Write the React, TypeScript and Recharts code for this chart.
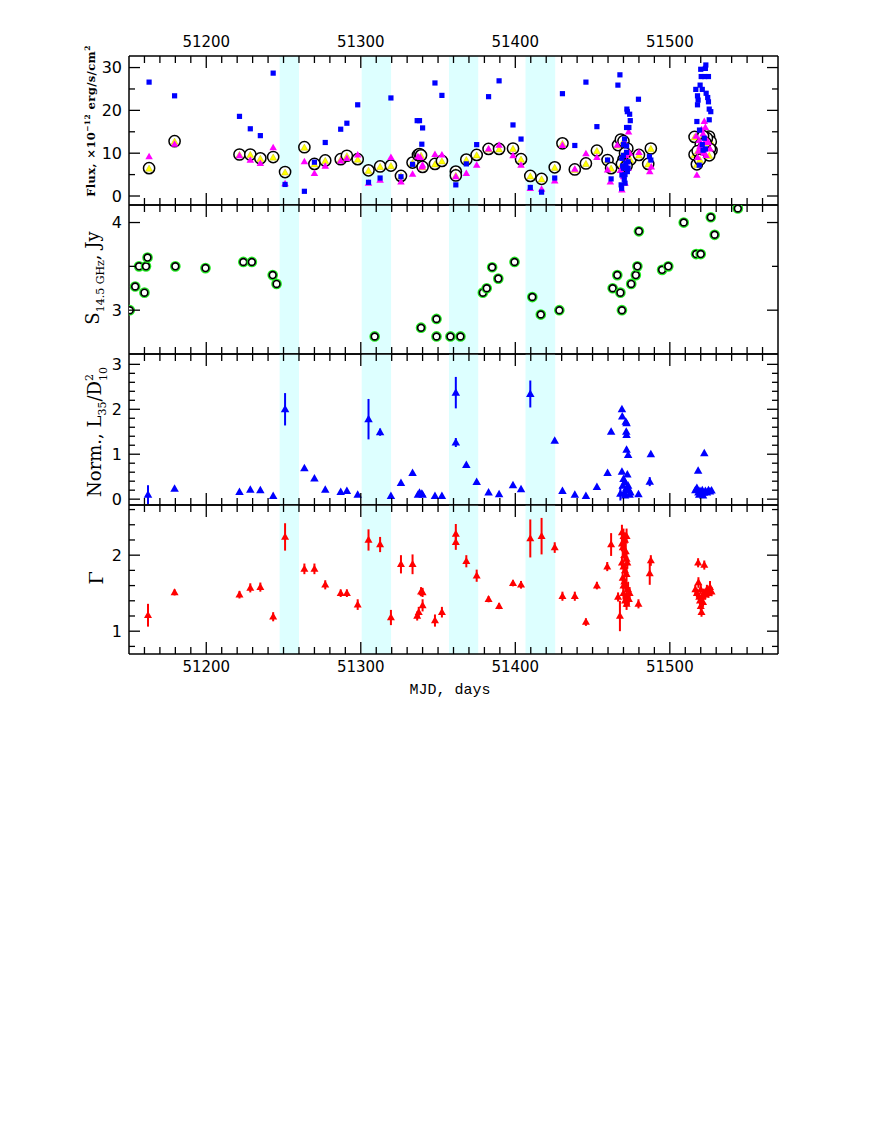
import React from "react";
import { ErrorBar, ReferenceArea, Scatter, ScatterChart, XAxis, YAxis } from "recharts";

// ---------- data: [MJD, value] ----------
// X-ray flux, blue squares
const fluxSquares: [number, number][] = [
  [51163, 26.6], [51179.5, 23.4], [51221.5, 18.6], [51228.5, 15.7], [51235, 14.1], [51243.3, 28.7],
  [51251, 2.7], [51263.5, 1.1], [51270, 7.9], [51277, 12.5], [51287, 15.6], [51291, 17.0], [51298, 21.3],
  [51305, 3.2], [51312.5, 4.2], [51319.5, 22.9], [51326, 4.5], [51333.5, 7.4], [51336.5, 17.6], [51338, 17.6],
  [51339.5, 12.1], [51340, 15.9], [51348, 26.4], [51352.5, 23.5], [51361.5, 2.6], [51368.3, 7.5], [51375, 12.0],
  [51382.7, 23.2], [51389.5, 26.9], [51398.5, 16.6], [51403.7, 13.3], [51409.7, 2.0], [51417, 0.9], [51425.5, 4.2],
  [51430.5, 23.9], [51438.5, 11.8], [51445.7, 26.6], [51452.8, 16.2], [51459.7, 8.4], [51462, 4.0], [51466.4, 25.9],
  [51467.7, 28.3], [51470.7, 13.3], [51472, 11.7], [51472.2, 20.3], [51472.5, 19.7], [51474, 19.1], [51474.4, 17.6],
  [51472, 16.0], [51473.5, 16.0], [51469, 8.8], [51471.5, 7.6], [51470, 6.5], [51472.5, 5.7], [51469, 4.9],
  [51470.5, 3.9], [51468.5, 2.6], [51471, 3.0], [51470, 9.5], [51472, 10.2], [51473, 8.0], [51471, 5.0],
  [51469.5, 7.0], [51473, 6.5], [51468.8, 1.8], [51470, 12.0], [51479.7, 22.6], [51486.8, 9.2], [51487.7, 8.4],
  [51523.3, 30.6], [51523, 29.8], [51520, 29.6], [51520.3, 27.9], [51522.5, 27.9], [51525, 27.9], [51519.6, 25.9],
  [51516.8, 24.9], [51521, 24.9], [51523.5, 24.0], [51524.5, 23.0], [51525, 22.0], [51517.9, 23.4], [51518.3, 22.4],
  [51517.9, 21.3], [51525.5, 20.3], [51526.5, 19.7], [51517.5, 17.4], [51525.5, 17.8], [51519.2, 15.4],
  [51522.3, 13.5], [51521.5, 10.7], [51519, 7.2], [51521, 12.0], [51523, 11.0],
];

// X-ray flux, magenta triangles
const fluxTriangles: [number, number][] = [
  [51163, 9.2], [51179.5, 12.1], [51221.5, 9.4], [51228.5, 8.4], [51235, 7.6], [51243.3, 11.3], [51251, 2.9],
  [51263.5, 8.0], [51270, 5.3], [51277, 7.0], [51287, 8.2], [51291, 8.8], [51298, 9.6], [51305, 3.0],
  [51312.5, 3.7], [51319.5, 9.0], [51326, 3.3], [51333.5, 5.1], [51337, 9.2], [51338.5, 9.0], [51339.5, 6.8],
  [51340, 7.2], [51348, 9.7], [51352.5, 9.6], [51361.5, 4.5], [51368.3, 5.3], [51375, 7.2], [51382.7, 11.0],
  [51389.5, 11.9], [51398.5, 9.4], [51403.7, 7.2], [51409.7, 1.8], [51417, 1.6], [51425.5, 3.5], [51430.5, 11.8],
  [51438.5, 6.3], [51445.7, 9.9], [51452.8, 9.0], [51459.7, 6.1], [51461.5, 3.3], [51466, 11.9], [51473.3, 15.0],
  [51469, 1.4], [51470, 4.5], [51471, 3.0], [51468, 6.0], [51472, 8.0], [51474, 10.0], [51470.5, 12.5],
  [51473, 6.5], [51471.5, 9.5], [51480, 10.2], [51487, 5.7], [51488, 6.8],
  [51517.5, 4.9], [51522.3, 17.4], [51523, 16.0], [51517, 14.0], [51519, 13.0], [51520, 12.0], [51521, 11.0],
  [51522, 10.0], [51523.5, 9.5], [51518, 9.0], [51519.5, 11.5], [51524, 13.0], [51525, 12.5], [51521.5, 14.5],
  [51520.5, 15.5], [51526, 11.0], [51518.5, 10.5], [51522.5, 12.5],
];

// X-ray flux, yellow circles
const fluxCircles: [number, number][] = [
  [51163, 6.5], [51179.5, 12.8], [51221.5, 9.7], [51228.5, 9.7], [51235, 8.8], [51243.3, 9.1], [51251, 5.6],
  [51263.5, 11.4], [51270, 7.5], [51277, 8.3], [51287, 8.6], [51291, 9.4], [51298, 8.6], [51305, 6.0],
  [51312.5, 6.9], [51319.5, 7.1], [51326, 4.7], [51333.5, 7.8], [51337, 9.6], [51338, 9.8], [51339, 9.5],
  [51340, 6.8], [51348, 7.5], [51352.5, 8.2], [51361.5, 5.7], [51361.5, 4.8], [51368.3, 8.5], [51375, 9.6],
  [51382.7, 11.0], [51389.5, 11.0], [51398.5, 11.1], [51403.7, 8.6], [51409.7, 4.7], [51417, 4.0], [51425.5, 6.7],
  [51430.5, 12.3], [51438.5, 6.2], [51445.7, 7.6], [51452.8, 10.6], [51459.7, 8.4], [51462, 6.5], [51466.5, 11.9],
  [51468.3, 13.2], [51470, 12.8], [51472.5, 11.1], [51470, 8.5], [51473, 9.0], [51474.5, 8.5], [51469, 7.5],
  [51472, 7.0], [51471, 10.0], [51480, 9.6], [51486, 7.5], [51487.7, 11.1],
  [51516, 13.8], [51516, 9.7], [51517.5, 7.4], [51525.4, 13.9], [51526.5, 12.7], [51527, 10.7], [51520, 12.0],
  [51522, 11.5], [51524, 13.5], [51526, 11.0], [51518, 10.5], [51519.5, 8.5], [51521.5, 14.0], [51525.5, 9.5],
  [51523, 12.5],
];

// radio flux at 14.5 GHz, Jy
const radio: [number, number][] = [
  [51150.5, 3.0], [51154, 3.27], [51156.5, 3.5], [51160, 3.2], [51161, 3.5], [51162, 3.6], [51180, 3.5],
  [51199.5, 3.48], [51224, 3.55], [51229.5, 3.55], [51243, 3.4], [51245.5, 3.3], [51309, 2.7], [51339, 2.8],
  [51349, 2.9], [51349, 2.7], [51358, 2.7], [51364.5, 2.7], [51379, 3.2], [51381.5, 3.25], [51385, 3.49],
  [51389, 3.36], [51399.5, 3.55], [51411, 3.15], [51416.5, 2.95], [51428.5, 3.0], [51463, 3.25], [51466, 3.4],
  [51468, 3.2], [51469, 3.0], [51475, 3.3], [51478, 3.4], [51479, 3.5], [51480, 3.9], [51495, 3.46],
  [51499, 3.5], [51509, 4.0], [51517, 3.64], [51520, 3.64], [51526.5, 4.06], [51529, 3.86], [51544, 4.16],
];

// normalised luminosity: [MJD, value, error]
const normLum: [number, number, number][] = [
  [51162.3, 0.10, 0.21], [51179.5, 0.23, 0], [51221.5, 0.16, 0], [51228.5, 0.21, 0], [51235, 0.2, 0],
  [51243.3, 0.07, 0], [51251, 2.0, 0.36], [51263.5, 0.69, 0], [51270, 0.46, 0], [51277, 0.21, 0],
  [51287, 0.16, 0], [51291, 0.18, 0], [51298, 0.1, 0], [51305, 1.78, 0.45], [51312.5, 1.49, 0.08],
  [51319.5, 0.07, 0], [51326, 0.36, 0], [51333.5, 0.58, 0], [51337, 0.1, 0], [51338, 0.14, 0],
  [51339.5, 0.12, 0], [51340, 0.1, 0], [51348, 0.07, 0], [51352.5, 0.07, 0], [51361.5, 2.37, 0.35],
  [51361.5, 1.26, 0.1], [51368.3, 0.76, 0], [51375, 0.38, 0], [51382.7, 0.15, 0], [51389.5, 0.11, 0],
  [51398.5, 0.31, 0], [51403.7, 0.22, 0], [51409.7, 2.34, 0.3], [51425.5, 1.3, 0.05], [51430.5, 0.18, 0],
  [51438.5, 0.1, 0], [51445.7, 0.07, 0], [51452.8, 0.27, 0], [51459.7, 0.58, 0], [51462, 1.5, 0.05],
  [51469, 2.0, 0.05], [51469.2, 1.84, 0.05], [51471.5, 1.72, 0], [51472, 1.69, 0], [51471.8, 1.5, 0.05],
  [51472, 1.43, 0.05], [51472, 1.1, 0.05], [51473, 0.98, 0.05], [51469, 0.61, 0], [51472.5, 0.55, 0],
  [51470, 0.45, 0], [51471, 0.38, 0], [51469.5, 0.3, 0], [51472, 0.25, 0], [51473.5, 0.2, 0],
  [51470.5, 0.15, 0], [51468, 0.12, 0.15], [51474, 0.1, 0], [51471, 0.08, 0], [51473, 0.3, 0],
  [51474.5, 0.15, 0], [51479.7, 0.11, 0], [51487, 0.39, 0.1], [51487.7, 1.0, 0], [51518.3, 0.63, 0],
  [51522.3, 1.02, 0], [51516.5, 0.2, 0], [51517.5, 0.25, 0], [51518.5, 0.15, 0], [51519.5, 0.18, 0],
  [51520, 0.12, 0], [51521, 0.2, 0], [51522, 0.14, 0], [51523, 0.18, 0], [51524, 0.15, 0], [51525, 0.2, 0],
  [51526, 0.17, 0], [51527, 0.19, 0], [51519, 0.1, 0], [51521.5, 0.08, 0],
];

// photon index Γ: [MJD, value, error]
const gamma: [number, number, number][] = [
  [51162.3, 1.21, 0.15], [51179.5, 1.51, 0.04], [51221.5, 1.48, 0.05], [51228.5, 1.57, 0.06], [51235, 1.58, 0.06],
  [51243.3, 1.19, 0.06], [51251, 2.24, 0.18], [51263.5, 1.82, 0.07], [51270, 1.82, 0.07], [51277, 1.61, 0.06],
  [51287, 1.5, 0.05], [51291, 1.5, 0.05], [51298, 1.35, 0.07], [51305, 2.2, 0.14], [51312.5, 2.14, 0.1],
  [51319.5, 1.18, 0.1], [51326, 1.88, 0.12], [51333.5, 1.88, 0.13], [51336.5, 1.2, 0.06], [51337.5, 1.25, 0.07],
  [51339, 1.52, 0.06], [51340, 1.51, 0.06], [51340, 1.34, 0.08], [51348, 1.14, 0.08], [51352.5, 1.25, 0.07],
  [51361.5, 2.28, 0.13], [51361.5, 2.17, 0.1], [51368.3, 1.92, 0.08], [51375, 1.73, 0.08], [51382.7, 1.42, 0.04],
  [51389.5, 1.33, 0.04], [51398.5, 1.63, 0.04], [51403.7, 1.61, 0.05], [51409.7, 2.22, 0.25], [51417, 2.25, 0.24],
  [51425.5, 2.1, 0.07], [51430.5, 1.46, 0.06], [51438.5, 1.46, 0.06], [51445.7, 1.12, 0.05], [51452.8, 1.6, 0.05],
  [51459.5, 1.85, 0.06], [51462, 2.14, 0.15], [51466.5, 1.45, 0.06], [51467.7, 1.2, 0.2],
  [51469, 2.3, 0.1], [51470, 2.25, 0.1], [51471, 2.2, 0.1], [51469.5, 2.1, 0.1], [51470.5, 2.0, 0.08],
  [51472, 1.95, 0.1], [51469, 1.9, 0.08], [51470, 1.85, 0.08], [51471, 1.8, 0.08], [51472, 1.75, 0.1],
  [51469.5, 1.7, 0.08], [51470.5, 1.65, 0.08], [51471.5, 1.6, 0.08], [51473, 1.55, 0.1], [51470, 1.5, 0.08],
  [51472, 1.45, 0.08], [51474, 1.5, 0.08], [51471, 1.4, 0.08], [51473.5, 1.42, 0.08], [51470, 1.6, 0.08],
  [51472.5, 1.9, 0.08], [51471.5, 2.05, 0.1], [51469, 2.15, 0.1], [51472, 2.25, 0.1], [51472, 1.36, 0.08],
  [51479.7, 1.36, 0.06], [51487, 1.76, 0.15], [51487.7, 1.93, 0.07],
  [51518.3, 1.9, 0.06], [51522.3, 1.87, 0.06], [51516.5, 1.55, 0.06], [51517.5, 1.5, 0.06], [51518.5, 1.64, 0.07],
  [51519, 1.45, 0.06], [51519.5, 1.4, 0.08], [51520, 1.33, 0.06], [51520.5, 1.25, 0.06], [51521, 1.45, 0.06],
  [51522, 1.5, 0.06], [51523, 1.48, 0.06], [51524, 1.55, 0.06], [51525, 1.5, 0.06], [51526, 1.58, 0.08],
  [51527, 1.52, 0.06], [51520, 1.55, 0.06], [51521.5, 1.38, 0.06],
];

// shaded intervals (MJD)
const bandStarts = [51247.5, 51300.6, 51357.1, 51406.6];
const bandEnds = [51260, 51319.6, 51376, 51425.8];

const xMajorTicks = [51200, 51300, 51400, 51500];

// ---------- layout ----------
const W = 872;
const PLOT_LEFT = 129;
const PLOT_RIGHT = 778;
const PAD = 40;
const X_DOMAIN: [number, number] = [51150, 51570];
const X_TICKS = Array.from({ length: 41 }, (_, i) => 51160 + i * 10);
const step = (from: number, n: number, d: number) => Array.from({ length: n }, (_, i) => +(from + i * d).toFixed(2));
const AXIS_LINE = { stroke: "#000", strokeWidth: 1.5 };
const TICK_FONT = "DejaVu Sans, sans-serif";
const LABEL_FONT = "DejaVu Serif, serif";

const pts = (a: [number, number][]) => a.map(([x, y]) => ({ x, y }));
const ptsErr = (a: [number, number, number][]) => a.map(([x, y, e]) => ({ x, y, e }));

const makeXTick = (side: "top" | "bottom", labels: boolean) => (props: any) => {
  const { x, y, payload } = props;
  const v = payload.value;
  const major = xMajorTicks.includes(v);
  const len = major ? 12 : 7;
  const dir = side === "bottom" ? -1 : 1;
  return (
    <g>
      <line x1={x} x2={x} y1={y} y2={y + dir * len} stroke="#000" strokeWidth={1.3} />
      {labels && major && (
        <text x={x} y={side === "bottom" ? y + 18 : y - 9} textAnchor="middle" fontFamily={TICK_FONT} fontSize={15} fill="#000">
          {v}
        </text>
      )}
    </g>
  );
};

const makeYTick = (side: "left" | "right", labels: number[]) => (props: any) => {
  const { x, y, payload } = props;
  const v = payload.value;
  const major = labels.includes(v);
  const len = major ? 11 : 6;
  const dir = side === "left" ? 1 : -1;
  return (
    <g>
      <line x1={x} x2={x + dir * len} y1={y} y2={y} stroke="#000" strokeWidth={1.3} />
      {side === "left" && major && (
        <text x={x - 7} y={y} dy="0.36em" textAnchor="end" fontFamily={TICK_FONT} fontSize={16} fill="#000">
          {v}
        </text>
      )}
    </g>
  );
};

// ---------- marker shapes ----------
const tri = (cx: number, cy: number, w: number, h: number) =>
  `${cx},${cy - h * 0.6} ${cx - w / 2},${cy + h * 0.4} ${cx + w / 2},${cy + h * 0.4}`;

const SquareShape = (p: any) => <rect x={p.cx - 2.6} y={p.cy - 2.6} width={5.2} height={5.2} fill="#0000ff" />;
const MagentaShape = (p: any) => <polygon points={tri(p.cx, p.cy, 7.5, 6.5)} fill="#ff00ff" />;
const CircleShape = (p: any) => (
  <g>
    <circle cx={p.cx} cy={p.cy} r={5.6} fill="#ffffff" stroke="#000" strokeWidth={1.5} />
    <polygon points={tri(p.cx, p.cy + 0.6, 7, 6.2)} fill="#ffff00" stroke="#b8b000" strokeWidth={0.4} />
  </g>
);
const RadioShape = (p: any) => (
  <g>
    <circle cx={p.cx} cy={p.cy} r={4.6} fill="none" stroke="#22ee22" strokeWidth={1.5} />
    <circle cx={p.cx} cy={p.cy} r={3.4} fill="#ffffff" stroke="#000" strokeWidth={1.7} />
  </g>
);
const BlueTriShape = (p: any) => <polygon points={tri(p.cx, p.cy, 8.5, 7.5)} fill="#0000ff" />;
const RedTriShape = (p: any) => <polygon points={tri(p.cx, p.cy, 8, 7)} fill="#ff0000" />;

type PanelProps = {
  top: number;
  bottom: number;
  yDomain: [number, number];
  yTicks: number[];
  yLabels: number[];
  topLabels?: boolean;
  bottomLabels?: boolean;
  children: React.ReactNode;
};

// axes get a 1px size (a 0px axis is not drawn), margins take the rest
function Panel({ top, bottom, yDomain, yTicks, yLabels, topLabels = false, bottomLabels = false, children }: PanelProps) {
  return (
    <div style={{ position: "absolute", left: 0, top: top - PAD }}>
      <ScatterChart
        width={W}
        height={bottom - top + 2 * PAD}
        margin={{ top: PAD - 1, bottom: PAD - 1, left: PLOT_LEFT - 1, right: W - PLOT_RIGHT - 1 }}
      >
        {bandStarts.map((s, i) => (
          <ReferenceArea key={i} xAxisId="b" yAxisId="l" x1={s} x2={bandEnds[i]} fill="#ddffff" fillOpacity={1} stroke="none" />
        ))}
        <XAxis xAxisId="b" dataKey="x" type="number" domain={X_DOMAIN} allowDataOverflow ticks={X_TICKS} interval={0}
          height={1} tickSize={0} tickMargin={0} tickLine={false} axisLine={AXIS_LINE} tick={makeXTick("bottom", bottomLabels)} />
        <XAxis xAxisId="t" orientation="top" dataKey="x" type="number" domain={X_DOMAIN} allowDataOverflow ticks={X_TICKS} interval={0}
          height={1} tickSize={0} tickMargin={0} tickLine={false} axisLine={AXIS_LINE} tick={makeXTick("top", topLabels)} />
        <YAxis yAxisId="l" dataKey="y" type="number" domain={yDomain} allowDataOverflow ticks={yTicks} interval={0}
          width={1} tickSize={0} tickMargin={0} tickLine={false} axisLine={AXIS_LINE} tick={makeYTick("left", yLabels)} />
        <YAxis yAxisId="r" orientation="right" dataKey="y" type="number" domain={yDomain} allowDataOverflow ticks={yTicks} interval={0}
          width={1} tickSize={0} tickMargin={0} tickLine={false} axisLine={AXIS_LINE} tick={makeYTick("right", yLabels)} />
        {children}
      </ScatterChart>
    </div>
  );
}

export default function App() {
  return (
    <div style={{ position: "absolute", left: 0, top: 0, width: W, height: 1128, background: "#fff" }}>
      <Panel top={56} bottom={205} yDomain={[-2.1, 32.7]} yTicks={step(0, 7, 5)} yLabels={[0, 10, 20, 30]} topLabels>
        <Scatter xAxisId="b" yAxisId="l" data={pts(fluxCircles)} shape={CircleShape} isAnimationActive={false} />
        <Scatter xAxisId="b" yAxisId="l" data={pts(fluxTriangles)} shape={MagentaShape} isAnimationActive={false} />
        <Scatter xAxisId="b" yAxisId="l" data={pts(fluxSquares)} shape={SquareShape} isAnimationActive={false} />
      </Panel>
      <Panel top={205} bottom={354} yDomain={[2.5, 4.2]} yTicks={[3, 3.5, 4]} yLabels={[3, 4]}>
        <Scatter xAxisId="b" yAxisId="l" data={pts(radio)} shape={RadioShape} isAnimationActive={false} />
      </Panel>
      <Panel top={354} bottom={505} yDomain={[-0.13, 3.23]} yTicks={step(0, 16, 0.2)} yLabels={[0, 1, 2, 3]}>
        <Scatter xAxisId="b" yAxisId="l" data={ptsErr(normLum)} shape={BlueTriShape} isAnimationActive={false}>
          <ErrorBar dataKey="e" direction="y" width={0} stroke="#0000ff" strokeWidth={2} isAnimationActive={false} />
        </Scatter>
      </Panel>
      <Panel top={505} bottom={654} yDomain={[0.7, 2.66]} yTicks={step(0.8, 10, 0.2)} yLabels={[1, 2]} bottomLabels>
        <Scatter xAxisId="b" yAxisId="l" data={ptsErr(gamma)} shape={RedTriShape} isAnimationActive={false}>
          <ErrorBar dataKey="e" direction="y" width={0} stroke="#ff0000" strokeWidth={2} isAnimationActive={false} />
        </Scatter>
      </Panel>

      <svg width={W} height={720} style={{ position: "absolute", left: 0, top: 0, pointerEvents: "none" }}>
        <text transform="translate(95,121) rotate(-90)" textAnchor="middle" fontFamily={LABEL_FONT} fontSize={11.5} fontWeight="bold" letterSpacing={0.4}>
          Flux, ×10<tspan dy={-5} fontSize={7.5}>−12</tspan>
          <tspan dy={5}> erg/s/cm</tspan>
          <tspan dy={-5} fontSize={7.5}>2</tspan>
        </text>
        <text transform="translate(99,278) rotate(-90)" textAnchor="middle" fontFamily={LABEL_FONT} fontSize={18}>
          S<tspan dy={5} fontSize={11}>14.5 GHz</tspan>
          <tspan dy={-5}>, Jy</tspan>
        </text>
        <text transform="translate(101,432) rotate(-90)" textAnchor="middle" fontFamily={LABEL_FONT} fontSize={18}>
          Norm., L<tspan dy={5} fontSize={11}>35</tspan>
          <tspan dy={-5}>/D</tspan>
          <tspan dy={-8} fontSize={11}>2</tspan>
          <tspan dx={-7} dy={14} fontSize={11}>10</tspan>
        </text>
        <text transform="translate(103,578) rotate(-90)" textAnchor="middle" fontFamily={LABEL_FONT} fontSize={19}>
          Γ
        </text>
        <text x={450} y={694} textAnchor="middle" fontFamily="Liberation Mono" fontSize={15}>
          MJD, days
        </text>
      </svg>
    </div>
  );
}
